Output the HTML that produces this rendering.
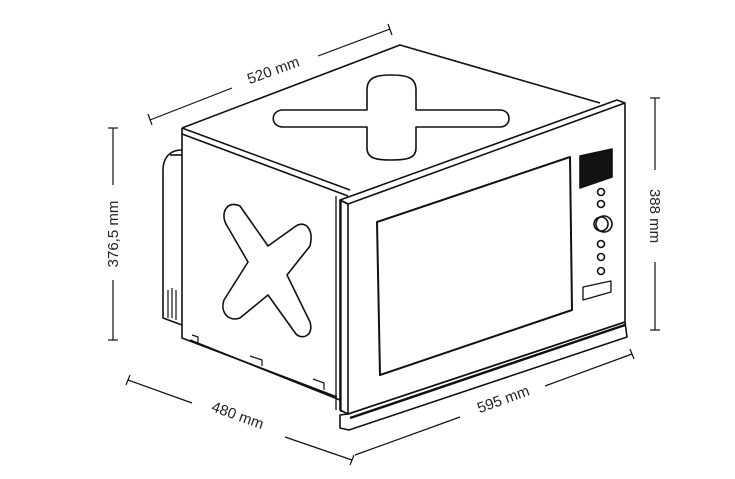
<!DOCTYPE html>
<html><head><meta charset="utf-8"><style>html,body{margin:0;padding:0;background:#fff}svg{display:block}</style></head>
<body>
<svg width="735" height="479" viewBox="0 0 735 479" xmlns="http://www.w3.org/2000/svg" font-family="Liberation Sans, sans-serif" font-size="15" fill="none" stroke="#111" stroke-width="1.6" stroke-linejoin="round">
<!-- dimension lines -->
<g stroke-width="1.2">
<line x1="150" y1="120" x2="232" y2="88"/><line x1="318" y1="56" x2="390" y2="29"/>
<line x1="148" y1="114" x2="152" y2="125"/><line x1="388" y1="24" x2="392" y2="35"/>
<line x1="113" y1="128" x2="113" y2="185"/><line x1="113" y1="280" x2="113" y2="340"/>
<line x1="108" y1="128" x2="118" y2="128"/><line x1="108" y1="340" x2="118" y2="340"/>
<line x1="655" y1="98" x2="655" y2="170"/><line x1="655" y1="262" x2="655" y2="330"/>
<line x1="650" y1="98" x2="660" y2="98"/><line x1="650" y1="330" x2="660" y2="330"/>
<line x1="128" y1="380" x2="192" y2="403"/><line x1="285" y1="437" x2="352" y2="460"/>
<line x1="130" y1="375" x2="126" y2="385"/><line x1="354" y1="455" x2="350" y2="465"/>
<line x1="355" y1="455" x2="460" y2="417"/><line x1="545" y1="386" x2="632" y2="354"/>
<line x1="630" y1="349" x2="634" y2="359"/>
</g>
<g fill="#222" stroke="none">
<text transform="translate(275,75) rotate(-20)" text-anchor="middle">520 mm</text>
<text transform="translate(118,234) rotate(-90)" text-anchor="middle">376,5 mm</text>
<text transform="translate(650,216) rotate(90)" text-anchor="middle">388 mm</text>
<text transform="translate(236,420) rotate(20)" text-anchor="middle">480 mm</text>
<text transform="translate(505,404) rotate(-20)" text-anchor="middle">595 mm</text>
</g>
<!-- top surface -->
<path d="M182,128 L400,45 L600,103"/>
<path d="M182,128 L350,190 M182,134 L348,196"/>
<!-- top X -->
<path d="M367,90 C367,78 375,75 391,75 C408,75 416,78 416,90 L416,110 L500,110 C512,110 512,127 500,127 L416,127 L416,148 C416,158 408,160 391,160 C375,160 367,158 367,148 L367,127 L283,127 C270,127 270,110 283,110 L367,110 Z"/>
<!-- side panel -->
<path d="M182,128 L182,338 L337,397"/>
<path d="M182,150 C168,150 163,160 163,170 L163,318 L182,325"/>
<path d="M182,155 L170,155"/>
<path d="M168,290 L168,318 M172,288 L172,318 M176,290 L176,320" stroke-width="1.2"/>
<path d="M190,340 L340,400"/>
<path d="M192,335 L198,337 L198,345 M250,356 L262,360 L262,366 M313,379 L324,383 L324,390" stroke-width="1.2"/>
<path d="M336,196 L336,410 M341,200 L341,412" stroke-width="1.3"/>
<!-- side X -->
<path d="M248,262 L226,224 C220,212 228,200 240,206 L268,246 L296,226 C306,220 314,230 310,246 L287,275 L310,322 C314,336 302,340 296,334 L268,295 L240,318 C228,322 220,312 224,300 Z"/>
<!-- front panel -->
<path d="M340,200 L617,100 L625,103 L625,322 L348,414 L348,204 Z" fill="#fff"/>
<path d="M340,200 L348,204 L625,103"/>
<path d="M340,200 L340,410 L348,414"/>
<!-- window -->
<path d="M377,222 L570,157 L572,310 L380,375 Z" stroke-width="2"/>
<!-- base strip -->
<path d="M348,414 L625,322 L627,337 L349,430 L340,428 L340,415 Z"/>
<path d="M350,418 L625,325" stroke-width="2.5"/>
<!-- controls -->
<path d="M580,156 L612,149 L612,177 L580,188 Z" fill="#111"/>
<circle cx="601" cy="192" r="3.5"/><circle cx="601" cy="204" r="3.5"/>
<circle cx="604" cy="224" r="8"/><circle cx="601" cy="224" r="7"/>
<circle cx="601" cy="244" r="3.5"/><circle cx="601" cy="257" r="3.5"/><circle cx="601" cy="271" r="3.5"/>
<path d="M583,287 L611,281 L611,292 L583,300 Z" stroke-width="1.3"/>
</svg>
</body></html>
